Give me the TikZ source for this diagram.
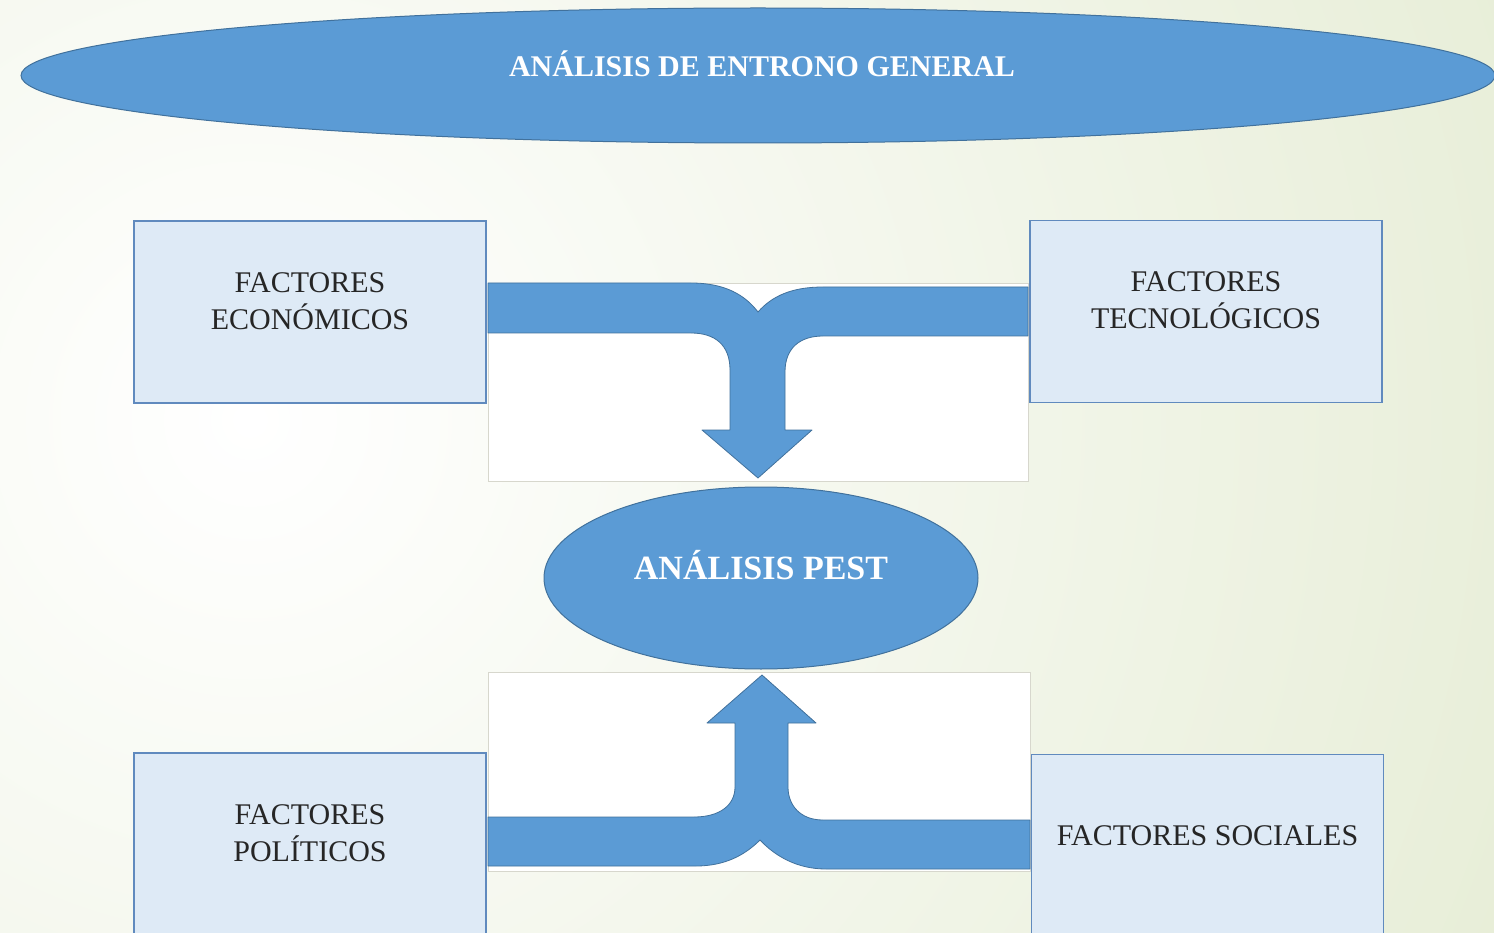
\documentclass[tikz,border=0pt]{standalone}
\usepackage{fontspec}
\setmainfont{Liberation Serif}
\usetikzlibrary{shapes.geometric}
\definecolor{bgg}{RGB}{222,231,200}
\definecolor{shapeblue}{RGB}{91,155,213}
\definecolor{shapeedge}{RGB}{65,113,156}
\definecolor{boxfill}{RGB}{222,234,246}
\definecolor{boxedge}{RGB}{96,138,190}
\definecolor{panedge}{RGB}{215,215,205}
\tikzset{
  factorbox/.style={draw=boxedge, line width=1.6pt, fill=boxfill, rectangle,
    minimum width=352pt, minimum height=182pt, inner sep=0pt},
  boxtext/.style={align=center, inner sep=0pt,
    font=\fontsize{30}{37}\selectfont, text=black!85},
  blueoval/.style={draw=shapeedge, line width=1pt, fill=shapeblue, ellipse, inner sep=0pt},
  ovallabel/.style={text=white, font=\bfseries\fontsize{30}{36}\selectfont, inner sep=0pt},
  pane/.style={draw=panedge, line width=0.6pt, fill=white},
  blockarrow/.style={draw=shapeedge, line width=0.8pt, fill=shapeblue, line join=round}
}
\begin{document}
\begin{tikzpicture}[x=1pt,y=-1pt]
\useasboundingbox (0,0) rectangle (1494,933);
\clip (0,0) rectangle (1494,933);
% background
\shade[inner color=white, outer color=bgg] (-1650,-1480) rectangle (2150,2320);
% top oval
\node[blueoval, minimum width=1474pt, minimum height=135pt] (gen) at (758,75.5) {};
\node[ovallabel] (genl) at (762,63.5) {ANÁLISIS DE ENTRONO GENERAL};
% boxes
\node[factorbox] (eco) at (310,312) {};
\node[factorbox] (tec) at (1206,311.5) {};
\node[factorbox] (pol) at (310,844) {};
\node[factorbox] (soc) at (1207.5,845.5) {};
\node[boxtext] (ecot) at ([yshift=11pt]eco.center) {FACTORES\\ECONÓMICOS};
\node[boxtext] (tect) at ([yshift=11pt]tec.center) {FACTORES\\TECNOLÓGICOS};
\node[boxtext] (polt) at ([yshift=11pt]pol.center) {FACTORES\\POLÍTICOS};
\node[boxtext] (soct) at ([yshift=10pt]soc.center) {FACTORES SOCIALES};
% white panes
\node[pane, minimum width=540pt, minimum height=198pt, inner sep=0pt] (paneA) at (758,382) {};
\node[pane, minimum width=542pt, minimum height=199pt, inner sep=0pt] (paneB) at (759,771.5) {};
% top merge arrow
\draw[blockarrow] (488,283) -- (691,283) .. controls (725,283) and (745,295) .. (758,312)
  .. controls (772,296) and (792,287) .. (823,287) -- (1028,287) -- (1028,336) -- (823,336)
  .. controls (800,336) and (785,348) .. (785,372) -- (785,430) -- (812,430) -- (758,478)
  -- (702,430) -- (730,430) -- (730,370) .. controls (730,345) and (715,333) .. (691,333)
  -- (488,333) -- cycle;
% bottom merge arrow
\draw[blockarrow] (488,866) -- (696,866) .. controls (725,866) and (745,855) .. (760,840)
  .. controls (775,856) and (797,869) .. (826,869) -- (1030,869) -- (1030,820) -- (823,820)
  .. controls (800,820) and (788,805) .. (788,787) -- (788,723) -- (816,723) -- (762,675)
  -- (707,723) -- (735,723) -- (735,787) .. controls (735,805) and (720,817) .. (694,817)
  -- (488,817) -- cycle;
% PEST oval
\node[blueoval, minimum width=434pt, minimum height=182pt] (pest) at (761,578) {};
\node[ovallabel, font=\bfseries\fontsize{34}{40}\selectfont] (pestl) at (761,565) {ANÁLISIS PEST};
\end{tikzpicture}
\end{document}
